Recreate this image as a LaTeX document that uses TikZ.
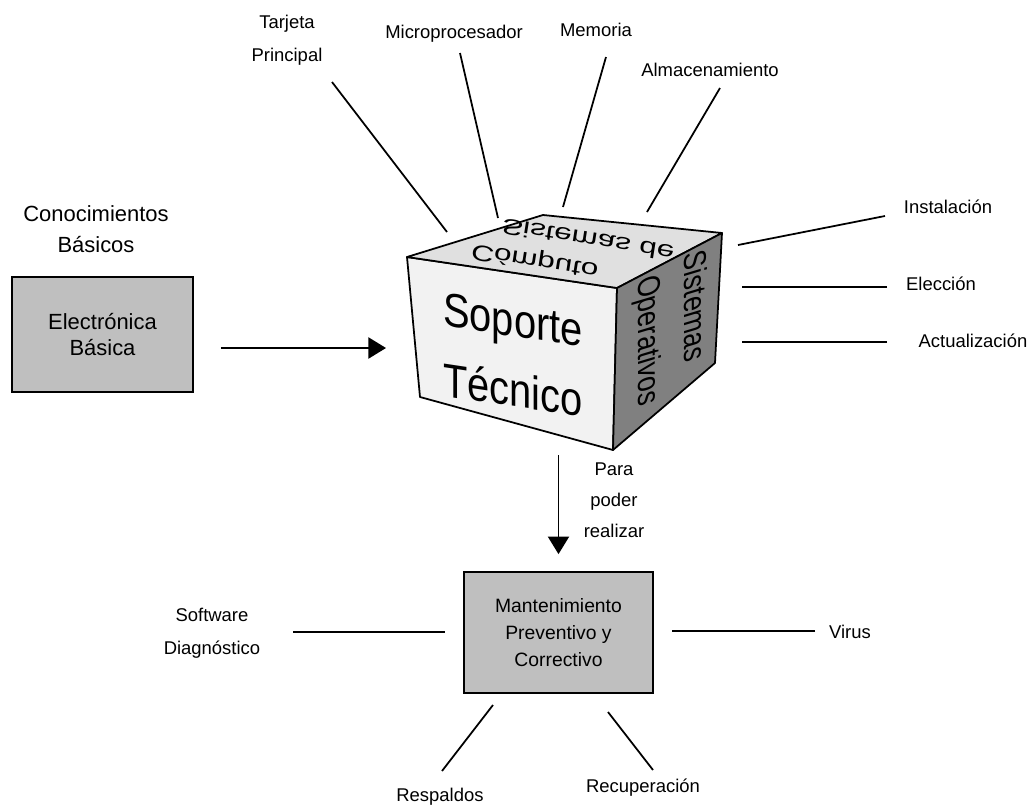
\documentclass[tikz,border=0pt]{standalone}
\usepackage{fontspec}
\usepackage{graphicx}
\setmainfont{Liberation Sans}
\usetikzlibrary{arrows.meta, positioning, calc}

\newcommand{\narrow}[1]{\scalebox{0.84}[1]{#1}}

\begin{document}
\begin{tikzpicture}
[x=0.02cm, y=-0.02cm,
block_gray/.style ={rectangle, draw, line width=1pt, fill=black!25, text centered, align=center, inner sep=0},
label_text/.style ={align=center, font=\fontsize{10.5}{19}\selectfont, inner sep=1pt},
face/.style ={draw, line width=1pt, line join=round},
side_text/.style ={cm={0,-1,1,0.3,(0,0)}, inner sep=0, font=\fontsize{18}{20}\selectfont},
line_inner/.style ={draw, line width=1pt},
line_arrow/.style ={draw, line width=1pt, -{Triangle[length=10pt, width=12pt]}}
]
\useasboundingbox (0,0) rectangle (1036,812);

%%Wuerfel%%%
\coordinate (cA) at (407,257);
\coordinate (cB) at (617,288);
\coordinate (cC) at (613,450);
\coordinate (cD) at (420,397);
\coordinate (cE) at (543,215);
\coordinate (cF) at (722,233);
\coordinate (cG) at (715,363);
\filldraw[face, fill=black!5] (cA) -- (cB) -- (cC) -- (cD) -- cycle;
\filldraw[face, fill=black!12] (cA) -- (cE) -- (cF) -- (cB) -- cycle;
\filldraw[face, fill=black!50] (cB) -- (cF) -- (cG) -- (cC) -- cycle;

\node [yslant=-0.15, align=center, inner sep=0, font=\fontsize{27}{40}\selectfont] (soporte) at (513,355) {\narrow{Soporte}\\\narrow{Técnico}};
\node [side_text] (sistemas) at (696,306) {\narrow{Sistemas}};
\node [side_text] (operativos) at (647,341) {\narrow{Operativos}};
\node [rotate=-9, yscale=-0.7, inner sep=0, font=\fontsize{18}{18}\selectfont] (sdc) at (588,240) {Sistemas de};
\node [rotate=-9, yscale=-0.7, inner sep=0, font=\fontsize{18}{18}\selectfont] (computo) at (535,260) {Cómputo};

%%Bloecke%%%
\node [label_text, font=\fontsize{12.5}{18}\selectfont] (conoc) at (96,229) {Conocimientos\\Básicos};
\node [block_gray, minimum width=3.62cm, minimum height=2.3cm, font=\fontsize{12.5}{15}\selectfont] (elec) at (102.5,334.5) {Electrónica\\Básica};
\node [block_gray, minimum width=3.78cm, minimum height=2.42cm, font=\fontsize{11}{15.5}\selectfont] (mant) at (558.5,632.5) {Mantenimiento\\Preventivo y\\Correctivo};
\node [label_text, font=\fontsize{10.5}{17.5}\selectfont] (para) at (614,500) {Para\\poder\\realizar};

%%Etiquetas%%%
\node [label_text] (tarjeta) at (287,40) {Tarjeta\\Principal};
\node [label_text] (micro) at (454,34) {Microprocesador};
\node [label_text] (memoria) at (596,30) {Memoria};
\node [label_text] (almac) at (710,70) {Almacenamiento};
\node [label_text] (instal) at (948,207) {Instalación};
\node [label_text] (eleccion) at (941,284) {Elección};
\node [label_text] (actual) at (973,341) {Actualización};
\node [label_text] (software) at (212,633) {Software\\Diagnóstico};
\node [label_text] (virus) at (850,632) {Virus};
\node [label_text] (respaldos) at (440,797) {Respaldos};
\node [label_text] (recup) at (643,788) {Recuperación};

%%Endpunkte%%%
\coordinate (tarjeta_e) at (332,82);   \coordinate (tarjeta_c) at (447,232);
\coordinate (micro_e) at (460,53);     \coordinate (micro_c) at (498,218);
\coordinate (memoria_e) at (606,57);   \coordinate (memoria_c) at (563,207);
\coordinate (almac_e) at (720,88);     \coordinate (almac_c) at (647,212);
\coordinate (instal_e) at (885,216);   \coordinate (instal_c) at (738,245);
\coordinate (eleccion_e) at (887,287); \coordinate (eleccion_c) at (742,287);
\coordinate (actual_e) at (887,342);   \coordinate (actual_c) at (742,342);
\coordinate (software_e) at (293,632); \coordinate (software_c) at (445,632);
\coordinate (virus_e) at (815,631);    \coordinate (virus_c) at (672,631);
\coordinate (respaldos_e) at (442,771);\coordinate (respaldos_c) at (493,705);
\coordinate (recup_e) at (653,770);    \coordinate (recup_c) at (608,712);
\coordinate (cube_w) at (415,348);
\coordinate (cube_s) at (558.5,435);

%%Linien%%%
\foreach \n in {tarjeta, micro, memoria, almac, instal, eleccion, actual, software, virus, respaldos, recup}
  \draw[line_inner] (\n_e) -- (\n_c);

%%Pfeile%%%
\draw[line_arrow, shorten <=0.54cm, shorten >=0.58cm] (elec.east |- cube_w) -- (cube_w);
\draw[line_arrow, shorten <=0.4cm, shorten >=0.34cm] (cube_s) -- (mant.north);

\end{tikzpicture}
\end{document}
